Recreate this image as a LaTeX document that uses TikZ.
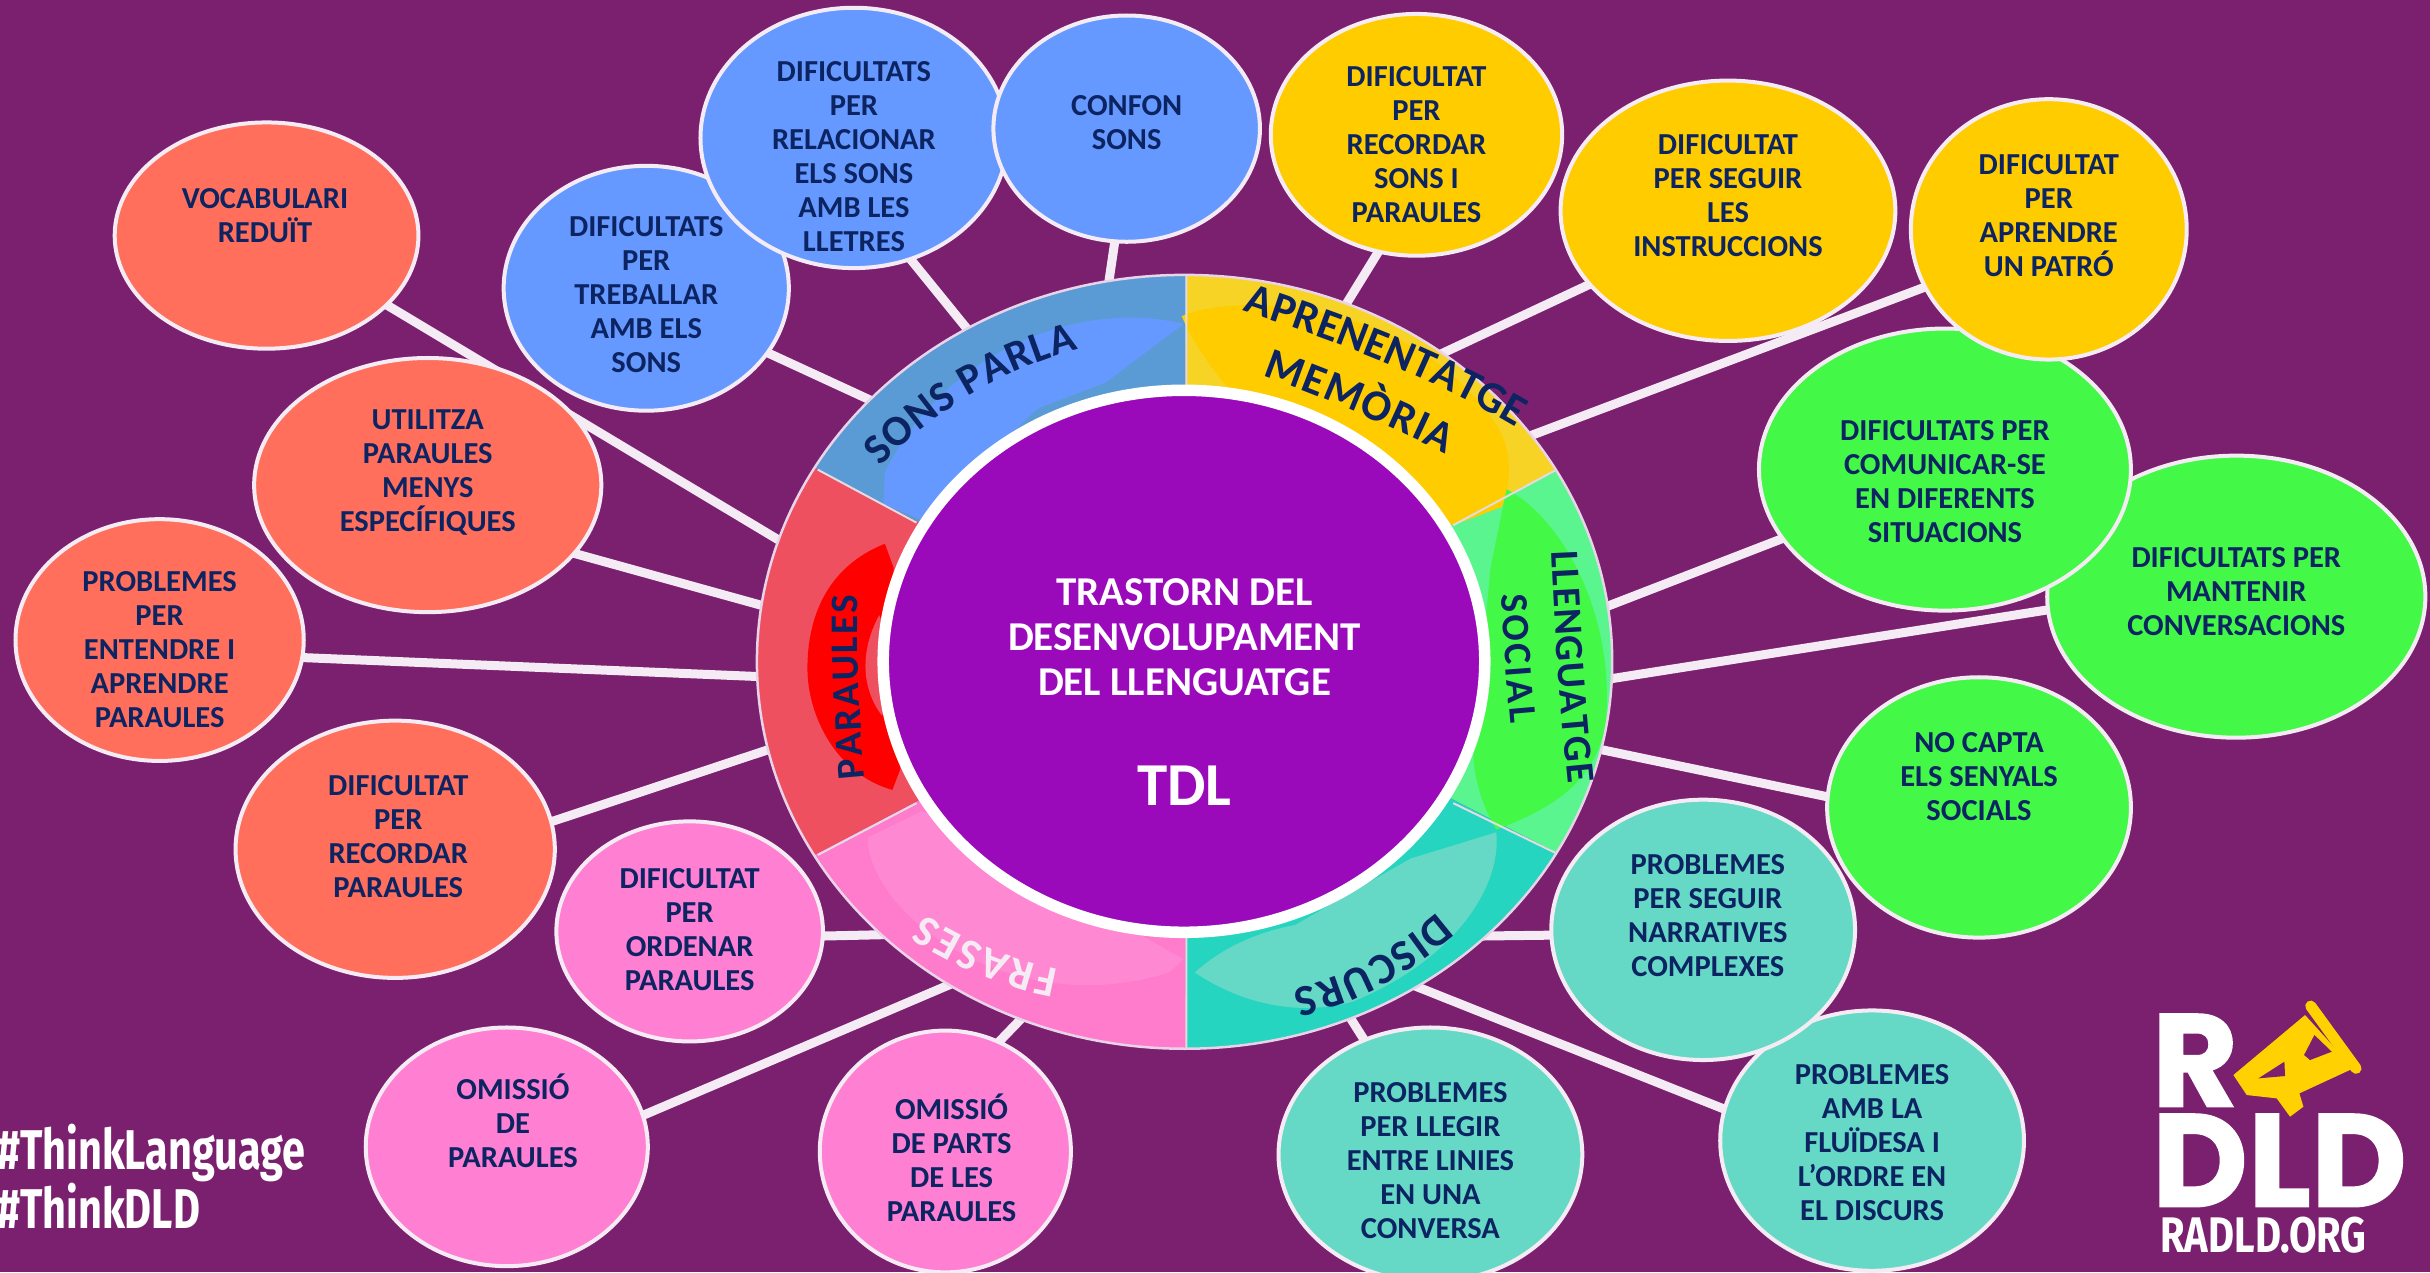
\documentclass[tikz,border=0pt]{standalone}
\usepackage{fontspec}
\usetikzlibrary{shapes.geometric,decorations.text}
\setmainfont{Carlito}[BoldFont=Carlito Bold]
\newfontfamily\condfont[FakeStretch=0.74]{Fira Sans Bold}
\newfontfamily\condfontb[FakeStretch=0.8]{Fira Sans Bold}
\newfontfamily\logofont[FakeBold=1.2]{Poppins Bold}
\definecolor{bgp}{HTML}{7A206E}
\definecolor{navy}{HTML}{0C2462}
\definecolor{core}{HTML}{9A0ABB}
\definecolor{edge}{HTML}{F4EBF4}
\definecolor{coral}{HTML}{FF6F5C}
\definecolor{blu}{HTML}{6699FF}
\definecolor{yel}{HTML}{FFCC00}
\definecolor{grn}{HTML}{44F848}
\definecolor{tea}{HTML}{66D9C6}
\definecolor{pnk}{HTML}{FF7FD2}
\definecolor{ringa}{HTML}{5B9BD5}
\definecolor{ringb}{HTML}{F7D325}
\definecolor{ringc}{HTML}{5BF590}
\definecolor{ringd}{HTML}{25D5C0}
\definecolor{ringe}{HTML}{FF7BCB}
\definecolor{ringf}{HTML}{EE5060}
\definecolor{pnkin}{HTML}{FF88D2}
\pgfdeclarelayer{bg}
\pgfsetlayers{bg,main}
\tikzset{
  bubble/.style={ellipse,draw=edge,line width=4pt,inner sep=0pt,outer sep=0pt},
  btext/.style={text=navy,align=center,inner sep=0pt,font=\fontsize{30.5}{34}\selectfont\bfseries},
  link/.style={draw=edge,line width=9pt},
  wtext/.style={text=white,align=center,inner sep=0pt},
  divider/.style={draw=edge!85!gray,line width=2pt},
}
\newcommand{\bub}[9]{%
  \node[bubble,fill=#2,minimum width={2*#5*1.5497pt},minimum height={2*#6*1.5497pt}] (#1) at (#3,#4) {};
  \node[btext] (#1t) at (#7,#8) {#9};}
\newcommand{\arctext}[4][navy]{\path[decorate,decoration={text along path,text align={fit to path},text={|\fontsize{#2}{#2}\selectfont\bfseries\color{#1}|#3}}] #4;}
\begin{document}
\begin{tikzpicture}[x=1.5497pt,y=-1.5497pt]
\useasboundingbox (0,0) rectangle (1568,821);
\begin{pgfonlayer}{bg}
\fill[bgp] (0,0) rectangle (1568,821);
\end{pgfonlayer}

% wheel, in the coordinates of an enlarged crop
\begin{scope}[shift={(750pt,-250pt)},x=0.574pt,y=-0.5293pt]
  \begin{scope}
    \clip (757,778) circle[x radius=745,y radius=731];
    \fill[ringa] (757,777) -- (-201,234) -- (-201,-100) -- (760,-100) -- cycle;
    \fill[ringb] (757,777) -- (760,-100) -- (1729,-100) -- (1729,234) -- cycle;
    \fill[ringc] (757,777) -- (1729,234) -- (1729,1320) -- cycle;
    \fill[ringd] (757,777) -- (1729,1320) -- (1729,1700) -- (760,1700) -- cycle;
    \fill[ringe] (757,777) -- (760,1700) -- (-201,1700) -- (-201,1320) -- cycle;
    \fill[ringf] (757,777) -- (-201,1320) -- (-201,234) -- cycle;
    % inner arrows
    \fill[blu] (755,140) .. controls (600,95) and (350,170) .. (235,420) -- (232,480) -- (300,510) -- (500,300) -- (620,250) -- cycle;
    \fill[yel] (752,125) .. controls (850,80) and (1150,90) .. (1300,330) .. controls (1330,380) and (1325,440) .. (1310,485) -- (1225,520) -- (840,270) .. controls (800,220) and (770,170) .. cycle;
    \fill[grn] (1318,452) .. controls (1420,510) and (1510,700) .. (1490,900) .. controls (1470,1000) and (1410,1050) .. (1300,1095) .. controls (1280,1060) and (1260,1000) .. (1260,950) -- (1290,600) -- cycle;
    \fill[tea] (775,1365) .. controls (830,1310) and (900,1285) .. (950,1275) -- (1150,1150) -- (1300,1100) .. controls (1310,1200) and (1230,1340) .. (1050,1420) .. controls (950,1450) and (850,1420) .. cycle;
    \fill[pnkin] (205,1110) .. controls (205,1250) and (450,1460) .. (730,1365) -- (755,1340) -- (300,1060) -- cycle;
    \fill[red] (235,555) .. controls (130,600) and (100,700) .. (100,790) .. controls (100,880) and (150,990) .. (248,1020) -- (262,980) -- (250,600) -- cycle;
    \fill[ringf] (225,690) .. controls (190,760) and (195,830) .. (230,880) -- (260,780) -- cycle;
  \end{scope}
  \path[divider] (760,47) -- (760,265) (760,1290) -- (760,1510)
    (118,415) -- (290,515) (118,1143) -- (290,1045)
    (1405,415) -- (1225,520) (1405,1140) -- (1225,1045);
  \node[ellipse,draw=edge!90!violet,line width=2.5pt,inner sep=0pt,outer sep=0pt,minimum width={2*745*0.574pt},minimum height={2*731*0.5293pt}] (wheel) at (757,778) {};
  \node[ellipse,draw=white,fill=core,line width=11.5pt,inner sep=0pt,outer sep=0pt,minimum width={2*524*0.574pt},minimum height={2*512*0.5293pt}] (corecircle) at (756,777) {};
  \node[wtext,font=\fontsize{41}{45}\selectfont\bfseries] (title) at (757,732) {TRASTORN DEL\\DESENVOLUPAMENT\\DEL LLENGUATGE};
  \node[wtext,font=\fontsize{61}{61}\selectfont\bfseries] (tdl) at (757,1012) {TDL};
  \arctext{43}{SONS PARLA}{(228,410) .. controls (320,305) and (440,225) .. (572,188)}
  \arctext{44}{APRENENTATGE}{(858,115) .. controls (1000,165) and (1180,235) .. (1335,335)}
  \arctext{44}{MEMÒRIA}{(893,238) .. controls (990,275) and (1100,325) .. (1212,385)}
  \arctext{40}{LLENGUATGE}{(1396,570) .. controls (1402,720) and (1412,870) .. (1425,1008)}
  \arctext{39}{SOCIAL}{(1310,650) .. controls (1312,730) and (1318,810) .. (1325,895)}
  \arctext{39}{PARAULES}{(200,998) .. controls (190,880) and (186,770) .. (188,652)}
  \arctext{44}{DISCURS}{(1198,1252) .. controls (1120,1325) and (1035,1375) .. (945,1397)}
  \arctext[edge]{44}{FRASES}{(538,1358) .. controls (470,1345) and (380,1310) .. (305,1255)}
\end{scope}

% bubbles
\bub{voc}{coral}{172}{152}{98}{73}{171}{139}{VOCABULARI\\REDUÏT}
\bub{uti}{coral}{276}{313}{112}{82}{276}{305}{UTILITZA\\PARAULES\\MENYS\\ESPECÍFIQUES}
\bub{ent}{coral}{103}{413}{93}{78}{103}{419}{PROBLEMES\\PER\\ENTENDRE I\\APRENDRE\\PARAULES}
\bub{rec}{coral}{255}{548}{103}{83}{257}{540}{DIFICULTAT\\PER\\RECORDAR\\PARAULES}
\bub{ord}{pnk}{445}{601}{86}{71}{445}{600}{DIFICULTAT\\PER\\ORDENAR\\PARAULES}
\bub{omi}{pnk}{327}{740}{91}{77}{331}{723}{OMISSIÓ\\DE\\PARAULES}
\bub{par}{pnk}{610}{743}{81}{78}{614}{747}{OMISSIÓ\\DE PARTS\\DE LES\\PARAULES}
\bub{lle}{tea}{923}{745}{98}{82}{923}{749}{PROBLEMES\\PER  LLEGIR\\ENTRE LINIES\\EN UNA\\CONVERSA}
\bub{flu}{tea}{1208}{736}{98}{84}{1208}{737}{PROBLEMES\\AMB LA\\FLUÏDESA I\\L’ORDRE EN\\EL DISCURS}
\bub{nar}{tea}{1099}{600}{98}{84}{1102}{591}{PROBLEMES\\PER SEGUIR\\NARRATIVES\\COMPLEXES}
\bub{cap}{grn}{1277}{521}{98}{84}{1277}{501}{NO CAPTA\\ELS SENYALS\\SOCIALS}
\bub{man}{grn}{1443}{385}{122}{91}{1443}{382}{DIFICULTATS PER\\MANTENIR\\CONVERSACIONS}
\bub{com}{grn}{1255}{303}{120}{91}{1255}{311}{DIFICULTATS PER\\COMUNICAR-SE\\EN DIFERENTS\\SITUACIONS}
\bub{apr}{yel}{1322}{148}{89}{84}{1322}{139}{DIFICULTAT\\PER\\APRENDRE\\UN PATRÓ}
\bub{seg}{yel}{1115}{136}{108}{84}{1115}{126}{DIFICULTAT\\PER SEGUIR\\LES\\INSTRUCCIONS}
\bub{son}{yel}{914}{87}{94}{78}{914}{93}{DIFICULTAT\\PER\\RECORDAR\\SONS I\\PARAULES}
\bub{tre}{blu}{417}{186}{92}{79}{417}{190}{DIFICULTATS\\PER\\TREBALLAR\\AMB ELS\\SONS}
\bub{rel}{blu}{551}{89}{99}{84}{551}{101}{DIFICULTATS\\PER\\RELACIONAR\\ELS SONS\\AMB LES\\LLETRES}
\bub{con}{blu}{727}{83}{86}{73}{727}{79}{CONFON\\SONS}

% connectors
\coordinate (wvoc) at (510,353);
\coordinate (wuti) at (500,393);
\coordinate (went) at (500,437);
\coordinate (wrec) at (507,480);
\coordinate (word) at (575,603);
\coordinate (womi) at (623,631);
\coordinate (wpar) at (668,648);
\coordinate (wlle) at (867,650);
\coordinate (wflu) at (905,633);
\coordinate (wnar) at (955,604);
\coordinate (wcap) at (1025,482);
\coordinate (wman) at (1033,439);
\coordinate (wcom) at (1030,394);
\coordinate (wapr) at (980,284);
\coordinate (wseg) at (920,233);
\coordinate (wson) at (862,207);
\coordinate (wcon) at (714,192);
\coordinate (wrel) at (632,222);
\coordinate (wtre) at (572,263);
\begin{pgfonlayer}{bg}
\path[link] (voc.330) -- (wvoc);
\path[link] (uti.335) -- (wuti);
\path[link] (ent.353) -- (went);
\path[link] (rec.10) -- (wrec);
\path[link] (ord.358) -- (word);
\path[link] (omi.13) -- (womi);
\path[link] (par.64) -- (wpar);
\path[link] (lle.120) -- (wlle);
\path[link] (flu.168) -- (wflu);
\path[link] (nar.182) -- (wnar);
\path[link] (cap.176) -- (wcap);
\path[link] (man.184) -- (wman);
\path[link] (com.203) -- (wcom);
\path[link] (apr.205) -- (wapr);
\path[link] (seg.208) -- (wseg);
\path[link] (son.252) -- (wson);
\path[link] (con.264) -- (wcon);
\path[link] (rel.295) -- (wrel);
\path[link] (tre.332) -- (wtre);
\end{pgfonlayer}

% hashtags
\node[anchor=west,text=white,align=left,inner sep=0pt,font=\condfont\fontsize{56}{57}\selectfont] (tags) at (-2,759) {\#ThinkLanguage\\\#ThinkDLD};

% logo, in the coordinates of an enlarged crop
\begin{scope}[shift={(2100pt,-980pt)},x=0.3333pt,y=-0.3333pt]
  \node[anchor=base west,text=white,inner sep=0pt,font=\logofont\fontsize{132}{132}\selectfont] (logoR) at (155,380) {R};
  \node[anchor=base west,text=white,inner sep=0pt,font=\logofont\fontsize{132}{132}\selectfont] (logoD) at (155,680) {DLD};
  \node[anchor=base,text=white,inner sep=0pt,font=\condfontb\fontsize{50}{50}\selectfont] (logoT) at (490,818) {RADLD.ORG};
  \fill[yel!90!yellow] (400,285) -- (615,105) -- (760,265) -- (598,340) -- (610,380) -- (570,410) -- (530,355) -- (440,345) -- cycle;
  \fill[bgp] (475,295) -- (553,245) -- (555,288) -- cycle;
  \fill[bgp] (612,225) -- (643,165) -- (695,215) -- (630,240) -- cycle;
  \draw[yel!90!yellow,line width=11pt,line cap=round] (632,78) -- (768,265);
\end{scope}
\end{tikzpicture}
\end{document}
